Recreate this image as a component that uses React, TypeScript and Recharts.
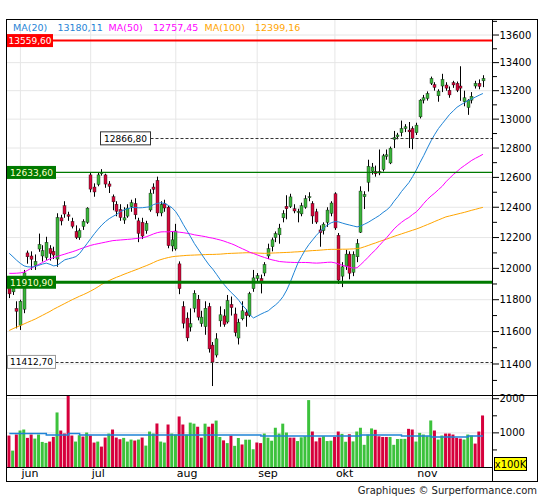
import React from 'react';
import { ComposedChart, Bar, Line, XAxis, YAxis, CartesianGrid, ReferenceLine, Cell } from 'recharts';

const FONT = '"DejaVu Sans", Verdana, sans-serif';
const BLUE = '#1f84d6';
const MAGENTA = '#ff00ff';
const ORANGE = '#ffa500';
const CANDLE_UP = '#3cb43c';
const CANDLE_DOWN = '#d20a3c';
const VOL_UP = '#3cc23c';
const VOL_DOWN = '#d6003c';
const LEVEL_GREEN = '#007a00';
const GRID = '#e6e6e6';

// one entry per trading day, 29 May -> 27 Nov
const monthStarts = [3, 22, 45, 67, 88, 110];
const monthLabels = ['jun', 'jul', 'aug', 'sep', 'okt', 'nov'];

const priceTicks = [
  11300, 11400, 11500, 11600, 11700, 11800, 11900, 12000, 12100, 12200, 12300, 12400, 12500,
  12600, 12700, 12800, 12900, 13000, 13100, 13200, 13300, 13400, 13500, 13600, 13700,
];
const priceGrid = [11400, 11600, 11800, 12000, 12200, 12400, 12600, 12800, 13000, 13200, 13400, 13600];
const volTicks = [500, 1000, 1500, 2000];
const volGrid = [1000, 2000];

const opens = [
  11880, 11850, 11745, 11640, 11740, 12100, 12080, 12020, 12125, 12080,
  12070, 12128, 12110, 12060, 12330, 12410, 12350, 12306, 12240, 12200,
  12273, 12300, 12617, 12535, 12552, 12625, 12617, 12556, 12470, 12420,
  12385, 12315, 12341, 12404, 12425, 12310, 12300, 12245, 12382, 12535,
  12580, 12362, 12425, 12400, 12145, 12126, 12029, 11757, 11684, 11628,
  11746, 11803, 11650, 11631, 11757, 11516, 11455, 11667, 11698, 11660,
  11770, 11710, 11560, 11680, 11720, 11700, 11870, 11935, 11935, 11970,
  12080, 12140, 12200, 12218, 12330, 12406, 12404, 12390, 12365, 12356,
  12400, 12465, 12425, 12370, 12250, 12245, 12300, 12360, 12490, 12215,
  11950, 12014, 12092, 11975, 12075, 12235, 12470, 12567, 12642, 12640,
  12640, 12653, 12743, 12698, 12860, 12878, 12906, 12935, 12924, 12935,
  12906, 13016, 13133, 13145, 13252, 13243, 13164, 13233, 13240, 13203,
  13257, 13252, 13233, 13122, 13081, 13133, 13233, 13252, 13270,
];
const highs = [
  11905, 11935, 11790, 11800, 11990, 12115, 12110, 12090, 12226, 12150,
  12205, 12150, 12140, 12360, 12350, 12440, 12370, 12330, 12280, 12260,
  12320, 12400, 12630, 12560, 12630, 12656, 12625, 12575, 12485, 12440,
  12420, 12400, 12420, 12450, 12460, 12330, 12330, 12310, 12520, 12560,
  12605, 12440, 12450, 12410, 12240, 12290, 12045, 11790, 11720, 11745,
  11860, 11830, 11730, 11790, 11780, 11535, 11590, 11758, 11740, 11830,
  11820, 11750, 11680, 11790, 11740, 11850, 11990, 11970, 11960, 12040,
  12160, 12200, 12240, 12290, 12380, 12480, 12490, 12420, 12390, 12430,
  12480, 12500, 12440, 12390, 12280, 12300, 12400, 12440, 12500, 12230,
  12040, 12120, 12110, 12110, 12190, 12540, 12507, 12720, 12698, 12680,
  12790, 12760, 12790, 12810, 12918, 12905, 12990, 12965, 12980, 12950,
  12975, 13140, 13170, 13195, 13300, 13260, 13210, 13320, 13260, 13230,
  13270, 13265, 13374, 13200, 13140, 13190, 13270, 13280, 13310,
];
const lows = [
  11810, 11830, 11620, 11610, 11715, 12030, 11990, 11990, 12107, 12044,
  12055, 12050, 12060, 12010, 12280, 12330, 12310, 12260, 12190, 12185,
  12250, 12290, 12500, 12470, 12540, 12612, 12530, 12495, 12380, 12340,
  12310, 12290, 12330, 12370, 12320, 12170, 12190, 12225, 12370, 12490,
  12340, 12340, 12370, 12130, 12110, 12115, 11835, 11620, 11540, 11600,
  11720, 11670, 11630, 11580, 11470, 11266, 11440, 11630, 11630, 11650,
  11700, 11570, 11520, 11670, 11630, 11690, 11850, 11910, 11840, 11950,
  12060, 12110, 12170, 12160, 12300, 12320, 12395, 12360, 12300, 12340,
  12390, 12440, 12290, 12290, 12140, 12220, 12270, 12340, 12250, 11900,
  11880, 11990, 11930, 11950, 12040, 12230, 12388, 12505, 12619, 12605,
  12615, 12640, 12720, 12690, 12800, 12860, 12880, 12910, 12800, 12792,
  12890, 13005, 13110, 13130, 13240, 13200, 13122, 13190, 13200, 13150,
  13220, 13190, 13128, 13090, 13030, 13110, 13215, 13210, 13225,
];
const closes = [
  11837, 11902, 11727, 11790, 11971, 12075, 12059, 12045, 12155, 12115,
  12169, 12096, 12086, 12332, 12309, 12355, 12340, 12274, 12200, 12245,
  12306, 12394, 12521, 12502, 12617, 12632, 12555, 12540, 12436, 12373,
  12332, 12330, 12394, 12430, 12350, 12227, 12210, 12293, 12494, 12520,
  12362, 12419, 12395, 12147, 12185, 12243, 11870, 11652, 11561, 11649,
  11841, 11690, 11690, 11746, 11493, 11412, 11555, 11705, 11645, 11795,
  11750, 11594, 11658, 11730, 11700, 11838, 11939, 11953, 11911, 12025,
  12127, 12185, 12226, 12262, 12358, 12390, 12469, 12375, 12372, 12410,
  12457, 12470, 12342, 12302, 12232, 12288, 12381, 12428, 12263, 11925,
  12010, 12092, 11969, 12090, 12161, 12508, 12485, 12675, 12670, 12625,
  12630, 12747, 12754, 12799, 12872, 12890, 12935, 12947, 12912, 12867,
  12958, 13133, 13150, 13180, 13287, 13223, 13197, 13280, 13218, 13170,
  13241, 13203, 13218, 13150, 13133, 13160, 13252, 13230, 13287,
];
const ma20 = [
  12097, 12075, 12052, 12032, 12016, 12010, 12009, 12012, 12020, 12028,
  12034, 12026, 12016, 12020, 12038, 12055, 12062, 12068, 12076, 12096,
  12128, 12160, 12193, 12225, 12255, 12282, 12305, 12324, 12339, 12352,
  12370, 12382, 12390, 12398, 12399, 12396, 12397, 12400, 12403, 12418,
  12425, 12430, 12425, 12412, 12396, 12370, 12332, 12287, 12246, 12205,
  12162, 12126, 12090, 12055, 12022, 11995, 11962, 11928, 11898, 11870,
  11845, 11823, 11797, 11765, 11740, 11705, 11685, 11697, 11709, 11720,
  11730, 11750, 11768, 11790, 11820, 11862, 11915, 11975, 12034, 12078,
  12120, 12155, 12185, 12215, 12240, 12260, 12283, 12297, 12305, 12303,
  12295, 12288, 12282, 12276, 12270, 12276, 12288, 12300, 12315, 12330,
  12345, 12365, 12382, 12405, 12440, 12470, 12505, 12535, 12565, 12605,
  12650, 12700, 12748, 12800, 12850, 12895, 12935, 12968, 13000, 13033,
  13058, 13083, 13100, 13115, 13130, 13142, 13155, 13168, 13180,
];
const ma50 = [
  11968, 11968, 11969, 11971, 11976, 11988, 12002, 12014, 12026, 12038,
  12050, 12062, 12070, 12077, 12085, 12092, 12100, 12107, 12115, 12124,
  12133, 12141, 12149, 12155, 12160, 12165, 12170, 12175, 12180, 12182,
  12184, 12186, 12188, 12190, 12193, 12196, 12198, 12205, 12214, 12224,
  12232, 12237, 12238, 12237, 12240, 12238, 12235, 12232, 12228, 12224,
  12218, 12214, 12210, 12206, 12200, 12196, 12190, 12184, 12177, 12168,
  12160, 12150, 12138, 12127, 12116, 12104, 12096, 12087, 12078, 12070,
  12062, 12055, 12050, 12044, 12042, 12040, 12039, 12038, 12038, 12038,
  12038, 12037, 12035, 12034, 12035, 12037, 12039, 12040, 12036, 12028,
  12020, 12014, 12007, 12002, 12004, 12025, 12048, 12072, 12098, 12120,
  12148, 12174, 12200, 12228, 12257, 12280, 12300, 12318, 12332, 12352,
  12369, 12395, 12425, 12452, 12475, 12495, 12518, 12540, 12570, 12595,
  12619, 12640, 12662, 12680, 12698, 12716, 12730, 12743, 12757,
];
const ma100 = [
  11607, 11618, 11628, 11638, 11648, 11658, 11668, 11678, 11690, 11702,
  11714, 11726, 11740, 11752, 11764, 11776, 11788, 11800, 11811, 11822,
  11832, 11843, 11855, 11868, 11882, 11898, 11910, 11922, 11933, 11943,
  11952, 11962, 11971, 11980, 11989, 11998, 12008, 12017, 12027, 12038,
  12049, 12057, 12064, 12070, 12075, 12078, 12080, 12082, 12084, 12085,
  12086, 12087, 12088, 12089, 12090, 12090, 12091, 12092, 12094, 12096,
  12097, 12098, 12099, 12100, 12101, 12101, 12100, 12099, 12098, 12097,
  12098, 12099, 12100, 12101, 12102, 12103, 12104, 12106, 12107, 12109,
  12111, 12113, 12115, 12116, 12118, 12120, 12122, 12123, 12123, 12123,
  12124, 12124, 12125, 12126, 12128, 12132, 12140, 12148, 12157, 12165,
  12174, 12182, 12190, 12199, 12208, 12216, 12224, 12232, 12240, 12248,
  12256, 12265, 12275, 12285, 12295, 12306, 12316, 12326, 12336, 12342,
  12348, 12354, 12360, 12366, 12373, 12380, 12386, 12393, 12399,
];
// volume in units of 100K
const volumes = [
  922, 480, 951, 1069, 1098, 853, 951, 833, 951, 735,
  706, 745, 882, 1598, 1069, 980, 2108, 922, 745, 931,
  892, 1010, 922, 716, 745, 598, 863, 980, 1098, 863,
  814, 853, 745, 804, 775, 804, 863, 627, 1039, 980,
  1275, 745, 716, 1245, 980, 951, 1480, 1245, 950, 1300,
  1270, 1180, 860, 1270, 1180, 1270, 1360, 880, 780, 700,
  920, 620, 850, 660, 800, 800, 520, 720, 700, 980,
  860, 770, 1150, 980, 1270, 1010, 860, 860, 760, 870,
  900, 1960, 1040, 750, 860, 900, 760, 770, 880, 1040,
  970, 740, 960, 750, 1040, 1150, 650, 950, 1130, 1090,
  900, 880, 880, 880, 650, 820, 824, 824, 1118, 1098,
  745, 1000, 951, 902, 1363, 1069, 804, 922, 980, 980,
  951, 853, 833, 804, 951, 922, 686, 1039, 1510,
];
const volUp = [
  0, 1, 0, 1, 1, 0, 0, 1, 1, 1,
  1, 0, 0, 1, 0, 0, 0, 0, 1, 1,
  0, 1, 0, 0, 1, 0, 0, 1, 0, 0,
  0, 1, 1, 1, 0, 1, 0, 1, 1, 1,
  0, 1, 1, 0, 1, 1, 0, 0, 1, 1,
  1, 0, 0, 1, 0, 0, 1, 1, 0, 1,
  0, 1, 1, 0, 1, 1, 1, 0, 0, 1,
  1, 1, 1, 1, 1, 1, 0, 0, 1, 1,
  1, 1, 0, 0, 0, 1, 1, 1, 0, 0,
  1, 1, 0, 1, 1, 1, 1, 1, 1, 0,
  0, 0, 0, 1, 1, 1, 1, 1, 0, 0,
  1, 1, 1, 1, 1, 0, 1, 1, 0, 0,
  0, 0, 0, 1, 1, 1, 0, 0, 0,
];
const volAvg = [
  980, 980, 980, 980, 980, 980, 980, 980, 980, 980,
  940, 940, 940, 940, 940, 940, 980, 980, 980, 940,
  940, 940, 940, 940, 940, 940, 940, 940, 940, 940,
  940, 940, 940, 940, 940, 940, 940, 940, 940, 940,
  940, 940, 940, 940, 940, 940, 940, 940, 940, 940,
  940, 940, 940, 940, 940, 940, 940, 940, 940, 940,
  940, 940, 940, 940, 940, 940, 940, 940, 905, 905,
  905, 905, 905, 905, 905, 905, 905, 905, 905, 905,
  905, 905, 905, 905, 905, 905, 905, 905, 905, 905,
  905, 905, 905, 905, 905, 940, 940, 940, 940, 940,
  940, 940, 940, 940, 940, 940, 905, 905, 905, 905,
  905, 905, 905, 905, 880, 880, 880, 880, 880, 880,
  880, 880, 880, 880, 905, 905, 905, 905, 905,
];

const legendItems = [
  { text: 'MA(20)', color: BLUE, x: 13 },
  { text: '13180,11', color: BLUE, x: 57.4 },
  { text: 'MA(50)', color: MAGENTA, x: 108.6 },
  { text: '12757,45', color: MAGENTA, x: 153 },
  { text: 'MA(100)', color: ORANGE, x: 204.6 },
  { text: '12399,16', color: ORANGE, x: 255 },
];

const rows = opens.map((o, i) => ({
  i,
  o,
  h: highs[i],
  l: lows[i],
  c: closes[i],
  ma20: ma20[i],
  ma50: ma50[i],
  ma100: ma100[i],
  vol: volumes[i],
  volAvg: volAvg[i],
}));

const X_DOMAIN: [number, number] = [-0.62, 130.73];

function Candle(props: any) {
  const { x, y, width, height, payload } = props;
  if (x == null || !payload) return null;
  const top = height < 0 ? y + height : y;
  const span = Math.abs(height);
  const lh = Math.log(payload.h);
  const ll = Math.log(payload.l);
  const py = (v: number) => top + ((lh - Math.log(v)) / (lh - ll || 1)) * span;
  const px = Math.round(x + width / 2);
  const up = payload.c >= payload.o;
  const b1 = py(Math.max(payload.o, payload.c));
  const b2 = py(Math.min(payload.o, payload.c));
  return (
    <g>
      <line x1={px + 0.5} x2={px + 0.5} y1={top} y2={top + span} stroke="#000" strokeWidth={1} />
      <rect
        x={px - 1}
        y={b1}
        width={3}
        height={Math.max(b2 - b1, 1)}
        fill={up ? CANDLE_UP : CANDLE_DOWN}
        stroke="#000"
        strokeOpacity={0.7}
        strokeWidth={0.5}
      />
    </g>
  );
}

function AxisTick({ x, y, payload, majorStep }: any) {
  const major = payload.value % majorStep === 0;
  return (
    <g>
      <line x1={x} x2={x + (major ? 6 : 4)} y1={y} y2={y} stroke="#000" strokeWidth={1} />
      {major && (
        <text x={x + 6.5} y={y + 3.6} fontSize={10} fontFamily={FONT} fill="#000">
          {payload.value}
        </text>
      )}
    </g>
  );
}

function MonthTick({ x, y, payload }: any) {
  const k = monthStarts.indexOf(payload.value);
  return (
    <text x={x + 1} y={y + 9.5} fontSize={11} fontFamily={FONT} fill="#000">
      {monthLabels[k]}
    </text>
  );
}

function Tag({ viewBox, text, bg, fg, left, width, border, dashed }: any) {
  if (!viewBox) return null;
  const y = viewBox.y;
  const x0 = viewBox.x + left;
  const h = 13;
  const ly = Math.round(y) + 0.5;
  return (
    <g>
      {dashed && (
        <line x1={x0 + width} x2={viewBox.x + viewBox.width} y1={ly} y2={ly} stroke="#333" strokeDasharray="3 2" />
      )}
      <rect x={x0} y={y - h / 2} width={width} height={h} fill={bg} stroke={border || 'none'} />
      <text x={x0 + width / 2} y={y + 3.3} textAnchor="middle" fontSize={9} fontFamily={FONT} fill={fg}>
        {text}
      </text>
    </g>
  );
}

export default function App() {
  return (
    <div style={{ position: 'absolute', left: 0, top: 0, width: 545, height: 500, background: '#fff', fontFamily: FONT }}>
      <div style={{ position: 'absolute', left: 0, top: 0 }}>
        <ComposedChart width={545} height={500} data={rows} margin={{ top: 20, right: 7, bottom: 105, left: 7 }}>
          <CartesianGrid stroke={GRID} horizontalValues={priceGrid} verticalValues={monthStarts} />
          <XAxis dataKey="i" type="number" domain={X_DOMAIN} allowDataOverflow hide />
          <YAxis
            orientation="right"
            scale="log"
            domain={[11212, 13710]}
            allowDataOverflow
            ticks={priceTicks}
            interval={0}
            width={45}
            tickSize={0}
            tickMargin={0}
            axisLine={false}
            tickLine={false}
            tick={<AxisTick majorStep={200} />}
          />
          <Bar
            dataKey={(d: any) => [d.l, d.h]}
            barSize={3}
            shape={(p: any) => <Candle {...p} />}
            isAnimationActive={false}
          />
          <Line dataKey="ma100" stroke={ORANGE} strokeWidth={1} dot={false} isAnimationActive={false} />
          <Line dataKey="ma50" stroke={MAGENTA} strokeWidth={1} dot={false} isAnimationActive={false} />
          <Line dataKey="ma20" stroke={BLUE} strokeWidth={1} dot={false} isAnimationActive={false} />
          <ReferenceLine
            y={13559.6}
            stroke="#ff0000"
            strokeWidth={2}
            label={(p: any) => <Tag {...p} text="13559,60" bg="#ff0000" fg="#ffffff" left={0} width={46} />}
          />
          <ReferenceLine
            y={12633.6}
            stroke={LEVEL_GREEN}
            strokeWidth={1.2}
            label={(p: any) => <Tag {...p} text="12633,60" bg={LEVEL_GREEN} fg="#ffffcc" left={0} width={49} />}
          />
          <ReferenceLine
            y={11910.9}
            stroke={LEVEL_GREEN}
            strokeWidth={3}
            label={(p: any) => <Tag {...p} text="11910,90" bg={LEVEL_GREEN} fg="#ffffcc" left={0} width={49} />}
          />
          <ReferenceLine
            y={12866.8}
            stroke="none"
            label={(p: any) => (
              <Tag {...p} text="12866,80" bg="#ffffff" fg="#000" border="#333" left={93.5} width={50} dashed />
            )}
          />
          <ReferenceLine
            y={11412.7}
            stroke="none"
            label={(p: any) => (
              <Tag {...p} text="11412,70" bg="#ffffff" fg="#000" border="#999" left={0.5} width={48} dashed />
            )}
          />
        </ComposedChart>
      </div>

      <div style={{ position: 'absolute', left: 0, top: 0 }}>
        <ComposedChart width={545} height={500} data={rows} margin={{ top: 396, right: 7, bottom: 18, left: 7 }}>
          <CartesianGrid stroke={GRID} horizontalValues={volGrid} verticalValues={monthStarts} />
          <XAxis
            dataKey="i"
            type="number"
            domain={X_DOMAIN}
            allowDataOverflow
            ticks={monthStarts}
            interval={0}
            height={15}
            tickSize={0}
            tickMargin={0}
            axisLine={false}
            tickLine={false}
            tick={<MonthTick />}
          />
          <YAxis
            orientation="right"
            domain={[0, 2080]}
            allowDataOverflow
            ticks={volTicks}
            interval={0}
            width={45}
            tickSize={0}
            tickMargin={0}
            axisLine={false}
            tickLine={false}
            tick={<AxisTick majorStep={1000} />}
          />
          <Bar dataKey="vol" barSize={3} isAnimationActive={false}>
            {rows.map((r) => (
              <Cell key={r.i} fill={volUp[r.i] ? VOL_UP : VOL_DOWN} />
            ))}
          </Bar>
          <Line
            dataKey="volAvg"
            type="stepAfter"
            stroke={BLUE}
            strokeWidth={1.5}
            dot={false}
            isAnimationActive={false}
          />
        </ComposedChart>
      </div>

      <svg width={545} height={500} style={{ position: 'absolute', left: 0, top: 0, pointerEvents: 'none' }}>
        <rect x={6.5} y={19.5} width={531} height={462} fill="none" stroke="#000" strokeWidth={1} />
        <line x1={492.5} x2={492.5} y1={19.5} y2={481.5} stroke="#000" />
        <line x1={6.5} x2={537.5} y1={395.5} y2={395.5} stroke="#000" />
        <line x1={6.5} x2={492.5} y1={467.5} y2={467.5} stroke="#000" />
        {legendItems.map((it) => (
          <text key={it.x} x={it.x} y={31} fontSize={9.5} fontFamily={FONT} fill={it.color}>
            {it.text}
          </text>
        ))}
        <rect x={494.5} y={457.5} width={32} height={13} fill="#ffff00" stroke="#000" />
        <text x={510.5} y={467.6} textAnchor="middle" fontSize={10} fontFamily={FONT} fill="#000">
          x100K
        </text>
        <text x={537} y={494} textAnchor="end" fontSize={10} fontFamily={FONT} fill="#222">
          Graphiques © Surperformance.com
        </text>
      </svg>
    </div>
  );
}
